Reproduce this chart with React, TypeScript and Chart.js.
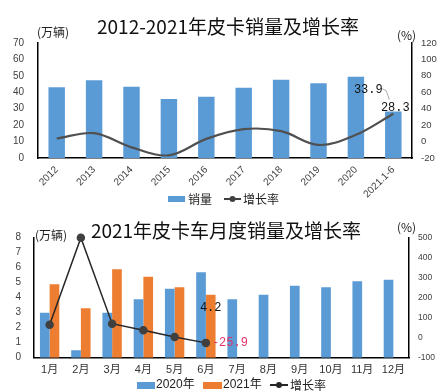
import React, { useEffect, useRef } from 'react';
import { Chart, registerables } from 'chart.js';
Chart.register(...registerables);

// ---- Chart 1 data ----
const years = ['2012', '2013', '2014', '2015', '2016', '2017', '2018', '2019', '2020', '2021.1-6'];
const annualSales = [43.1, 47.3, 43.3, 35.9, 37.3, 42.7, 47.6, 45.5, 49.4, 28.3];
const annualGrowth = [3.7, 10.2, -7, -16.7, 3.3, 15.1, 12.7, -4.1, 8.2, 33.9];
const title1 = '2012-2021年皮卡销量及增长率';

// ---- Chart 2 data ----
const months = ['1月', '2月', '3月', '4月', '5月', '6月', '7月', '8月', '9月', '10月', '11月', '12月'];
const sales2020 = [3.0, 0.5, 3.0, 3.9, 4.6, 5.7, 3.9, 4.2, 4.8, 4.7, 5.1, 5.2];
const sales2021 = [4.9, 3.3, 5.9, 5.4, 4.7, 4.2, null, null, null, null, null, null];
const growth2021 = [65, 500, 70, 37, 3, -25.9, null, null, null, null, null, null];
const title2 = '2021年皮卡车月度销量及增长率';

const BLUE = '#5B9BD5';
const ORANGE = '#ED7D31';
const SANS = '"Liberation Sans", "Noto Sans CJK SC", sans-serif';
const CJK = '"Noto Sans CJK SC", sans-serif';
const MONO = '"Liberation Mono", monospace';
const TICK = '#404040';

const fixW = (w: number) => (s: any) => { s.width = w; };
const fixH = (h: number) => (s: any) => { s.height = h; };

function text(ctx: CanvasRenderingContext2D, s: string, x: number, y: number, font: string, color: string, align: CanvasTextAlign = 'left') {
  ctx.font = font;
  ctx.fillStyle = color;
  ctx.textAlign = align;
  ctx.textBaseline = 'middle';
  ctx.fillText(s, x, y);
}

function legendLine(ctx: CanvasRenderingContext2D, x1: number, x2: number, y: number, color: string) {
  ctx.strokeStyle = color;
  ctx.lineWidth = 2;
  ctx.beginPath();
  ctx.moveTo(x1, y);
  ctx.lineTo(x2, y);
  ctx.stroke();
  ctx.fillStyle = color;
  ctx.beginPath();
  ctx.arc((x1 + x2) / 2, y, 3, 0, Math.PI * 2);
  ctx.fill();
}

const deco1 = {
  id: 'deco1',
  afterDraw(chart: any) {
    const ctx = chart.ctx as CanvasRenderingContext2D;
    ctx.save();
    text(ctx, title1, 228, 27, `19px ${CJK}`, '#111', 'center');
    text(ctx, '(万辆)', 37, 32, `12px ${CJK}`, '#222');
    text(ctx, '(%)', 397, 35, `12px ${CJK}`, '#222');
    const bar = chart.getDatasetMeta(0).data[9];
    const pt = chart.getDatasetMeta(1).data[9];
    text(ctx, String(annualSales[9]), bar.x + 2, bar.y - 4, `12px ${MONO}`, '#111', 'center');
    text(ctx, String(annualGrowth[9]), pt.x - 25, pt.y - 24, `12px ${MONO}`, '#111', 'center');
    ctx.strokeStyle = '#999';
    ctx.lineWidth = 0.8;
    ctx.beginPath();
    ctx.moveTo(pt.x - 11, pt.y - 25);
    ctx.lineTo(pt.x - 7, pt.y - 23);
    ctx.lineTo(pt.x - 4, pt.y - 14);
    ctx.stroke();
    // legend
    ctx.fillStyle = BLUE;
    ctx.fillRect(168, 196, 17, 6);
    text(ctx, '销量', 188, 199, `12px ${CJK}`, '#222');
    legendLine(ctx, 224, 241, 199, '#404040');
    text(ctx, '增长率', 243, 199, `12px ${CJK}`, '#222');
    ctx.restore();
  },
};

const deco2 = {
  id: 'deco2',
  afterDraw(chart: any) {
    const ctx = chart.ctx as CanvasRenderingContext2D;
    ctx.save();
    text(ctx, title2, 226, 25, `19px ${CJK}`, '#111', 'center');
    text(ctx, '(万辆)', 35, 29, `12px ${CJK}`, '#222');
    text(ctx, '(%)', 397, 21, `12px ${CJK}`, '#222');
    const bar = chart.getDatasetMeta(2).data[5];
    const pt = chart.getDatasetMeta(0).data[5];
    text(ctx, String(sales2021[5]), bar.x, bar.y + 13, `12px ${MONO}`, '#111', 'center');
    text(ctx, String(growth2021[5]), pt.x + 6, pt.y, `12px ${MONO}`, '#E0306A', 'left');
    // legend
    ctx.fillStyle = BLUE;
    ctx.fillRect(137, 176, 18, 7);
    text(ctx, '2020年', 156, 179, `12px ${SANS}`, '#222');
    ctx.fillStyle = ORANGE;
    ctx.fillRect(203, 176, 19, 7);
    text(ctx, '2021年', 223, 179, `12px ${SANS}`, '#222');
    legendLine(ctx, 270, 288, 179, '#262626');
    text(ctx, '增长率', 290, 179, `12px ${CJK}`, '#222');
    ctx.restore();
  },
};

const axisBorder = { display: true, color: '#000', width: 1.5 };
const noGrid = { display: false, drawTicks: false };

export default function App() {
  const ref1 = useRef<HTMLCanvasElement>(null);
  const ref2 = useRef<HTMLCanvasElement>(null);

  useEffect(() => {
    const c1 = new Chart(ref1.current!, {
      type: 'bar',
      data: {
        labels: years,
        datasets: [
          {
            type: 'bar',
            label: '销量',
            data: annualSales,
            backgroundColor: BLUE,
            yAxisID: 'y',
            order: 1,
            categoryPercentage: 1,
            barPercentage: 0.44,
          },
          {
            type: 'line',
            label: '增长率',
            data: annualGrowth,
            borderColor: '#505050',
            borderWidth: 2.2,
            pointRadius: 0,
            tension: 0.35,
            yAxisID: 'y1',
            order: 0,
            clip: false,
          } as any,
        ],
      },
      options: {
        responsive: false,
        animation: false,
        layout: { padding: { top: 43, left: 0, right: 0, bottom: 0 } },
        plugins: { legend: { display: false }, title: { display: false }, tooltip: { enabled: false } },
        scales: {
          x: {
            grid: noGrid,
            border: axisBorder,
            afterFit: fixH(48),
            ticks: { autoSkip: false, minRotation: 45, maxRotation: 45, padding: 6, color: TICK, font: { family: SANS, size: 10 } },
          },
          y: {
            position: 'left',
            min: 0,
            max: 70,
            grid: noGrid,
            border: axisBorder,
            afterFit: fixW(38),
            ticks: { stepSize: 10, padding: 14, color: TICK, font: { family: SANS, size: 10 } },
          },
          y1: {
            position: 'right',
            min: -20,
            max: 120,
            grid: noGrid,
            border: axisBorder,
            afterFit: fixW(32),
            ticks: { stepSize: 20, padding: 9, color: TICK, font: { family: SANS, size: 9.5 } },
          },
        },
      } as any,
      plugins: [deco1],
    });

    const c2 = new Chart(ref2.current!, {
      type: 'bar',
      data: {
        labels: months,
        datasets: [
          {
            type: 'line',
            label: '增长率',
            data: growth2021,
            borderColor: '#262626',
            borderWidth: 1.5,
            pointRadius: 3.5,
            pointBackgroundColor: '#404040',
            pointBorderColor: '#404040',
            tension: 0,
            yAxisID: 'y1',
            order: 0,
            clip: false,
          } as any,
          {
            type: 'bar',
            label: '2020年',
            data: sales2020,
            backgroundColor: BLUE,
            yAxisID: 'y',
            order: 1,
            categoryPercentage: 0.62,
            barPercentage: 1,
          },
          {
            type: 'bar',
            label: '2021年',
            data: sales2021,
            backgroundColor: ORANGE,
            yAxisID: 'y',
            order: 2,
            categoryPercentage: 0.62,
            barPercentage: 1,
          },
        ],
      },
      options: {
        responsive: false,
        animation: false,
        layout: { padding: { top: 31.7, left: 0, right: 0, bottom: 0 } },
        plugins: { legend: { display: false }, title: { display: false }, tooltip: { enabled: false } },
        scales: {
          x: {
            grid: noGrid,
            border: axisBorder,
            afterFit: fixH(33.3),
            ticks: { autoSkip: false, maxRotation: 0, padding: 6, color: '#333', font: { family: SANS, size: 11 } },
          },
          y: {
            position: 'left',
            min: 0,
            max: 8,
            grid: noGrid,
            border: axisBorder,
            afterFit: fixW(34),
            ticks: { stepSize: 1, padding: 13, color: TICK, font: { family: SANS, size: 10 } },
          },
          y1: {
            position: 'right',
            min: -100,
            max: 500,
            grid: noGrid,
            border: axisBorder,
            afterFit: fixW(35),
            ticks: { stepSize: 100, padding: 9, color: TICK, font: { family: SANS, size: 8.5 } },
          },
        },
      } as any,
      plugins: [deco2],
    });

    return () => {
      c1.destroy();
      c2.destroy();
    };
  }, []);

  return (
    <div style={{ position: 'absolute', left: 0, top: 0, width: 444, height: 391, background: '#fff' }}>
      <canvas ref={ref1} width={444} height={206} style={{ display: 'block', width: 444, height: 206 }} />
      <canvas ref={ref2} width={444} height={185} style={{ display: 'block', width: 444, height: 185 }} />
    </div>
  );
}
